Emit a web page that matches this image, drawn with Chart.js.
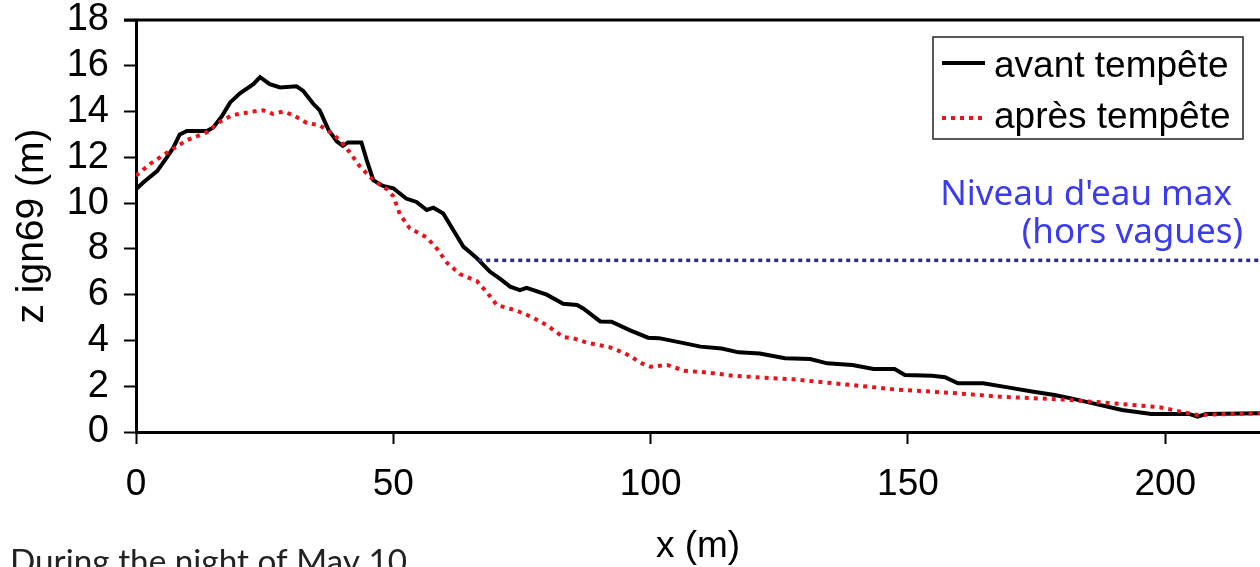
<!DOCTYPE html>
<html>
<head>
<meta charset="utf-8">
<script src="https://cdn.jsdelivr.net/npm/chart.js@4.4.0/dist/chart.umd.min.js"></script>
<style>
  html, body { margin: 0; padding: 0; background: #fff; }
  #wrap { width: 1260px; height: 567px; position: relative; overflow: hidden; }
</style>
</head>
<body>
<div id="wrap"><canvas id="myChart" width="1260" height="567"></canvas></div>

<script>
// profil avant tempête (x en m, z ign69 en m)
const xAvant = [0, 1.4, 4.1, 6, 7.2, 8.5, 9.9, 13.8, 15, 16.7, 18.3, 20.2, 22.8, 24.1, 26, 28, 31.2, 32.5, 34.4, 35.7,
  37.4, 39, 40.2, 41.2, 43.8, 44.8, 46.1, 48, 50, 52.5, 54.5, 56.5, 57.8, 59.7, 61.7, 63.6, 66.2, 68.8, 70.7, 72.7,
  74.6, 75.9, 79.8, 83, 85.7, 86.9, 90.2, 92.4, 95.9, 99.5, 101.6, 105, 109.7, 113.8, 117.1, 121.2, 126.1, 131, 134.3,
  139.2, 143.3, 147.4, 149.4, 154.7, 157.2, 159.7, 164.6, 169.4, 174.4, 178.5, 181.7, 186.6, 191.6, 197.3, 204.6,
  206.3, 207.9, 218.4];
const zAvant = [10.6, 10.9, 11.4, 12.0, 12.4, 13.0, 13.15, 13.15, 13.3, 13.8, 14.4, 14.8, 15.2, 15.5, 15.2, 15.05, 15.1, 14.9, 14.35, 14.05,
  13.2, 12.7, 12.5, 12.65, 12.65, 11.9, 11.0, 10.75, 10.65, 10.2, 10.05, 9.7, 9.8, 9.55, 8.8, 8.1, 7.6, 7.0, 6.7, 6.35,
  6.2, 6.3, 6.0, 5.6, 5.55, 5.4, 4.83, 4.82, 4.45, 4.12, 4.1, 3.95, 3.73, 3.65, 3.48, 3.43, 3.22, 3.19, 3.0,
  2.93, 2.75, 2.75, 2.49, 2.46, 2.39, 2.13, 2.13, 1.95, 1.76, 1.62, 1.47, 1.22, 0.96, 0.79, 0.79,
  0.67, 0.79, 0.82];

// profil après tempête
const xApres = [0, 2.7, 6, 9.9, 13.8, 16.3, 18.8, 22.8, 24.7, 26.6, 28.6, 30.5, 33.2, 35.7, 37.7, 39.6, 41.6, 43.5, 46.1,
  48.8, 50, 51.3, 53.2, 56.5, 58.5, 60.4, 62.9, 66.2, 68.2, 70.1, 74, 77.1, 79.8, 83, 84.9, 87.6, 92.1, 95, 98.3, 100,
  103.2, 106.5, 111.4, 116.3, 127.8, 139.2, 147.4, 159.7, 167.9, 180.1, 188.3, 198.9, 203, 206.3, 218.4];
const zApres = [11.2, 11.7, 12.2, 12.75, 13.1, 13.55, 13.85, 14.0, 14.06, 13.9, 14.0, 13.85, 13.5, 13.4, 13.1, 12.75, 12.2, 11.6, 11.0,
  10.6, 10.3, 9.5, 8.9, 8.5, 8.0, 7.4, 6.9, 6.6, 6.1, 5.55, 5.3, 5.0, 4.67, 4.15, 4.1, 3.9, 3.7, 3.44, 3.0, 2.85,
  2.93, 2.68, 2.59, 2.45, 2.3, 2.05, 1.86, 1.69, 1.54, 1.42, 1.28, 1.08, 0.89, 0.74, 0.82];

// niveau d'eau max (hors vagues)
const xNiveau = [66.5, 218.4];
const zNiveau = [7.5, 7.5];

const seriesLabels = ['avant tempête', 'après tempête'];
const noteLines = ["Niveau d'eau max", '(hors vagues)'];
const xTitle = 'x (m)';
const yTitle = 'z ign69 (m)';
const caption = 'During the night of May 10';

function pts(xs, ys) {
  return xs.map((x, i) => ({ x: x, y: ys[i] }));
}

const sans = "'Liberation Sans', Arial, sans-serif";

function noPad(s) {
  s.paddingTop = 0;
  s.paddingBottom = 0;
  s.paddingLeft = 0;
  s.paddingRight = 0;
}

// cadre du haut, légende encadrée, texte bleu, légende du bas
const extras = {
  id: 'extras',
  afterDraw(chart) {
    const c = chart.ctx;
    const a = chart.chartArea;
    c.save();

    // top border
    c.strokeStyle = '#000';
    c.lineWidth = 3;
    c.beginPath();
    c.moveTo(a.left - 12, a.top);
    c.lineTo(a.right, a.top);
    c.stroke();

    // legend box
    const bx = a.right - 327, by = a.top + 17, bw = 310, bh = 102;
    c.fillStyle = '#fff';
    c.fillRect(bx, by, bw, bh);
    c.lineWidth = 1.5;
    c.strokeStyle = '#222';
    c.strokeRect(bx, by, bw, bh);
    const rows = [[by + 26, by + 40], [by + 81, by + 91]];
    [0, 1].forEach(i => {
      const ds = chart.data.datasets[i];
      c.save();
      c.strokeStyle = ds.borderColor;
      c.lineWidth = ds.borderWidth;
      c.setLineDash(ds.borderDash || []);
      c.beginPath();
      c.moveTo(bx + 9, rows[i][0]);
      c.lineTo(bx + 52, rows[i][0]);
      c.stroke();
      c.restore();
      c.fillStyle = '#000';
      c.font = '37px ' + sans;
      c.textAlign = 'left';
      c.textBaseline = 'alphabetic';
      c.fillText(seriesLabels[i], bx + 61, rows[i][1]);
    });

    // note in blue
    c.fillStyle = '#3a3aee';
    c.textAlign = 'right';
    c.textBaseline = 'alphabetic';
    c.font = "30px 'Noto Sans', sans-serif";
    let s = 30 * 292 / c.measureText(noteLines[0]).width;
    c.font = s.toFixed(1) + "px 'Noto Sans', sans-serif";
    c.fillText(noteLines[0], a.right - 28, 205);
    c.fillText(noteLines[1], a.right - 17, 243);

    // caption at bottom
    c.fillStyle = '#222';
    c.textAlign = 'left';
    c.font = "32px Lato, sans-serif";
    s = 32 * 397 / c.measureText(caption).width;
    c.font = s.toFixed(1) + "px Lato, sans-serif";
    c.fillText(caption, 10, 573);

    c.restore();
  }
};

const ctx = document.getElementById('myChart');
const myChart = new Chart(ctx, {
  type: 'line',
  data: {
    datasets: [{
      label: seriesLabels[0],
      data: pts(xAvant, zAvant),
      borderColor: '#000',
      borderWidth: 4,
      pointRadius: 0,
      order: 2
    }, {
      label: seriesLabels[1],
      data: pts(xApres, zApres),
      borderColor: '#e8131b',
      borderWidth: 4,
      borderDash: [4, 5],
      borderCapStyle: 'butt',
      pointRadius: 0,
      order: 1
    }, {
      label: 'niveau',
      data: pts(xNiveau, zNiveau),
      borderColor: '#2e2e78',
      borderWidth: 3.5,
      borderDash: [4, 4],
      pointRadius: 0,
      order: 0
    }]
  },
  options: {
    responsive: false,
    animation: false,
    layout: { padding: { top: 20, right: 0, left: 0, bottom: 0 } },
    plugins: { legend: { display: false }, tooltip: { enabled: false } },
    scales: {
      x: {
        type: 'linear',
        min: 0,
        max: 218.4,
        ticks: {
          stepSize: 50,
          includeBounds: false,
          maxRotation: 0,
          color: '#000',
          padding: 22,
          font: { family: sans, size: 37, lineHeight: 1 }
        },
        grid: { drawOnChartArea: false, tickLength: 12, tickWidth: 2, color: '#000' },
        border: { width: 3, color: '#000' },
        title: {
          display: true,
          text: xTitle,
          color: '#000',
          padding: { top: 0, bottom: -2 },
          font: { family: sans, size: 37 }
        },
        afterFit(s) { s.height = 135; noPad(s); }
      },
      y: {
        min: 0,
        max: 18,
        ticks: {
          stepSize: 2,
          color: '#000',
          padding: 15,
          font: { family: sans, size: 38, lineHeight: 1 }
        },
        grid: { drawOnChartArea: false, tickLength: 12, tickWidth: 2, color: '#000' },
        border: { width: 3, color: '#000' },
        title: {
          display: true,
          text: yTitle,
          color: '#000',
          padding: { top: 9, bottom: 0 },
          font: { family: sans, size: 39 }
        },
        afterFit(s) { s.width = 136; noPad(s); }
      }
    }
  },
  plugins: [extras]
});
</script>
</body>
</html>
